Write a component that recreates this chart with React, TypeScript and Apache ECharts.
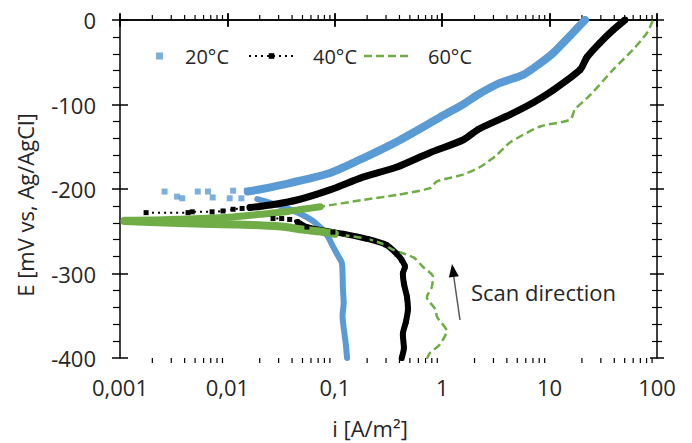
import React, { useEffect, useRef } from "react";
import * as echarts from "echarts";

// ---- data: [current density i (A/m2), potential E (mV vs Ag/AgCl)] ----
const blueCathodic: number[][] = [
  [0.13, -400], [0.127, -385], [0.122, -368], [0.118, -350], [0.121, -335], [0.119, -318],
  [0.118, -300], [0.116, -287], [0.106, -278], [0.096, -268], [0.085, -255], [0.066, -240],
  [0.047, -229], [0.031, -220], [0.019, -212],
];
const blueAnodic: number[][] = [
  [0.0155, -203], [0.021, -200], [0.038, -193], [0.09, -181], [0.18, -164], [0.264, -154],
  [0.405, -142], [0.77, -122], [0.954, -115], [1.56, -100], [2.11, -89], [3.45, -74.5],
  [5.65, -65], [8.0, -52], [10.8, -39], [16.5, -15], [21.4, 0],
];
const blueSparse: number[][] = [
  [0.0026, -203], [0.0034, -209], [0.0038, -211], [0.0053, -203], [0.0066, -203],
  [0.0073, -210], [0.0105, -211], [0.0113, -202], [0.0135, -211], [0.0152, -202],
];
const blackCathodic: number[][] = [
  [0.42, -400], [0.44, -388], [0.43, -372], [0.46, -357], [0.48, -342], [0.47, -328],
  [0.44, -312], [0.43, -300], [0.45, -292], [0.42, -284], [0.38, -277], [0.3, -266],
  [0.2, -259], [0.12, -253], [0.096, -251], [0.055, -245], [0.045, -239], [0.038, -236],
  [0.032, -235], [0.0266, -235],
];
const blackAnodic: number[][] = [
  [0.00175, -228], [0.0043, -228], [0.0047, -227], [0.0072, -227], [0.0091, -226],
  [0.0113, -224], [0.0137, -223], [0.0162, -222], [0.0189, -221], [0.0249, -219],
  [0.0445, -213], [0.09, -201], [0.183, -186], [0.379, -174], [0.769, -157], [1.56, -142],
  [2.2, -129], [4.28, -112], [7.0, -98], [10.8, -83], [19.2, -59], [22.3, -44], [29.4, -27],
  [38.9, -12], [50.3, 0],
];
const greenCathodic: number[][] = [
  [0.72, -401], [0.77, -394], [0.95, -384], [1.1, -368], [0.9, -352], [0.86, -342],
  [0.72, -328], [0.8, -316], [0.82, -304], [0.66, -292], [0.54, -281], [0.35, -272],
  [0.28, -265], [0.2, -259], [0.1, -253], [0.07, -250], [0.05, -248], [0.035, -245],
  [0.02, -243], [0.0113, -242], [0.003, -240], [0.0011, -238],
];
const greenAnodic: number[][] = [
  [0.0011, -237], [0.003, -236], [0.0113, -233], [0.02, -230], [0.035, -227], [0.05, -224],
  [0.073, -221], [0.183, -213], [0.379, -207], [0.77, -199], [0.895, -191], [1.56, -183],
  [2.25, -174], [3.2, -160], [4.28, -145], [8.14, -126], [15.5, -118], [17.2, -106],
  [23.8, -89], [38.9, -59], [59.8, -35], [80.8, -15], [91.8, 0],
];

const X_TICK_LABELS = ["0,001", "0,01", "0,1", "1", "10", "100"];
const X_DECADES = [0.001, 0.01, 0.1, 1, 10];
const X_MINOR_MULT = [2, 3, 4, 5, 6, 7, 8, 9];
const SERIES_NAMES = ["20°C", "40°C", "60°C"];

const X_MIN = 0.001;
const X_MAX = 100;
const Y_MIN = -400;
const Y_MAX = 0;

const FONT = "'Open Sans', 'Noto Sans', sans-serif";
const TXT = "#262626";
const BLUE = "#5B9BD5";
const BLACK = "#000000";
const GREEN = "#70AD47";
const SMOOTH = 0.25;

export default function App() {
  const ref = useRef<HTMLDivElement>(null);

  useEffect(() => {
    if (!ref.current) return;
    const chart = echarts.init(ref.current, undefined, { renderer: "svg" });

    const minorTicks: number[][] = [];
    X_DECADES.forEach((d) => X_MINOR_MULT.forEach((m) => minorTicks.push([d * m, Y_MIN])));

    const logAxisBase = {
      type: "log" as const,
      logBase: 10,
      min: X_MIN,
      max: X_MAX,
      splitLine: { show: false },
    };
    const valAxisBase = {
      type: "value" as const,
      min: Y_MIN,
      max: Y_MAX,
      interval: 100,
      splitLine: { show: false },
    };
    const lineAx = { show: true, lineStyle: { color: BLACK, width: 1.5 } };
    const legendText = { fontSize: 20, color: TXT, fontFamily: FONT, lineHeight: 24 };

    const option: any = {
      animation: false,
      backgroundColor: "#ffffff",
      textStyle: { fontFamily: FONT },
      grid: { left: 120, right: 35, top: 20, bottom: 85, containLabel: false },
      xAxis: [
        {
          ...logAxisBase,
          position: "bottom",
          axisLine: lineAx,
          axisTick: { show: true, length: 6, lineStyle: { color: BLACK, width: 1.5 } },
          axisLabel: {
            show: true,
            margin: 18,
            fontSize: 22,
            color: TXT,
            fontFamily: FONT,
            formatter: (v: number) => X_TICK_LABELS[Math.round(Math.log10(v)) + 3] ?? "",
          },
        },
        {
          ...logAxisBase,
          position: "bottom",
          axisLine: { show: false },
          axisTick: { show: true, inside: true, length: 6, lineStyle: { color: BLACK, width: 1.5 } },
          axisLabel: { show: false },
        },
        {
          ...logAxisBase,
          position: "top",
          axisLine: lineAx,
          axisTick: { show: true, length: 7, lineStyle: { color: BLACK, width: 1.5 } },
          axisLabel: { show: false },
        },
        {
          ...logAxisBase,
          position: "top",
          axisLine: { show: false },
          axisTick: { show: true, inside: true, length: 7, lineStyle: { color: BLACK, width: 1.5 } },
          axisLabel: { show: false },
        },
      ],
      yAxis: [
        {
          ...valAxisBase,
          position: "left",
          axisLine: lineAx,
          axisTick: { show: true, length: 8, lineStyle: { color: BLACK, width: 1.5 } },
          minorTick: { show: true, splitNumber: 5, length: 7, lineStyle: { color: BLACK, width: 1.2 } },
          axisLabel: { show: true, margin: 24, fontSize: 22, color: TXT, fontFamily: FONT },
        },
        {
          ...valAxisBase,
          position: "left",
          axisLine: { show: false },
          axisTick: { show: true, inside: true, length: 8, lineStyle: { color: BLACK, width: 1.5 } },
          axisLabel: { show: false },
        },
        {
          ...valAxisBase,
          position: "right",
          axisLine: lineAx,
          axisTick: { show: true, length: 7, lineStyle: { color: BLACK, width: 1.5 } },
          minorTick: { show: true, splitNumber: 5, length: 5, lineStyle: { color: BLACK, width: 1.2 } },
          axisLabel: { show: false },
        },
        {
          ...valAxisBase,
          position: "right",
          axisLine: { show: false },
          axisTick: { show: true, inside: true, length: 7, lineStyle: { color: BLACK, width: 1.5 } },
          minorTick: { show: true, splitNumber: 5, length: 5, lineStyle: { color: BLACK, width: 1.2 } },
          axisLabel: { show: false },
        },
      ],
      legend: [
        {
          data: [{ name: SERIES_NAMES[0], icon: "path://M0,0H10V10H0Z" }],
          left: 156,
          top: 44,
          padding: 0,
          itemWidth: 7,
          itemHeight: 7,
          selectedMode: false,
          textStyle: { ...legendText, padding: [0, 0, 0, 17] },
        },
        {
          data: [SERIES_NAMES[1]],
          left: 248,
          top: 44,
          padding: 0,
          itemWidth: 45,
          itemHeight: 7,
          selectedMode: false,
          textStyle: { ...legendText, padding: [0, 0, 0, 14] },
        },
        {
          data: [
            {
              name: SERIES_NAMES[2],
              icon: "path://M0,0h8v2.5h-8z M12,0h8v2.5h-8z M24,0h8v2.5h-8z M36,0h8v2.5h-8z",
            },
          ],
          left: 364,
          top: 44,
          padding: 0,
          itemWidth: 44,
          itemHeight: 7,
          selectedMode: false,
          textStyle: { ...legendText, padding: [0, 0, 0, 15] },
        },
      ],
      series: [
        {
          type: "custom",
          name: "minorTicks",
          silent: true,
          clip: false,
          xAxisIndex: 0,
          yAxisIndex: 0,
          data: minorTicks,
          renderItem: (_p: any, api: any) => {
            const v = api.value(0);
            const b = api.coord([v, Y_MIN]);
            const t = api.coord([v, Y_MAX]);
            return {
              type: "group",
              children: [
                { type: "line", shape: { x1: b[0], y1: b[1], x2: b[0], y2: b[1] + 5 }, style: { stroke: BLACK, lineWidth: 1.2 } },
                { type: "line", shape: { x1: t[0], y1: t[1], x2: t[0], y2: t[1] - 5 }, style: { stroke: BLACK, lineWidth: 1.2 } },
              ],
            };
          },
        },
        {
          type: "line",
          name: "b20c",
          data: blueCathodic,
          showSymbol: false,
          smooth: SMOOTH,
          lineStyle: { color: BLUE, width: 6, cap: "round", join: "round" },
          silent: true,
        },
        {
          type: "line",
          name: "b20a",
          data: blueAnodic,
          showSymbol: false,
          smooth: SMOOTH,
          lineStyle: { color: BLUE, width: 8, cap: "round", join: "round" },
          silent: true,
        },
        {
          type: "scatter",
          name: SERIES_NAMES[0],
          data: blueSparse,
          symbol: "rect",
          symbolSize: 6,
          itemStyle: { color: BLUE },
        },
        {
          type: "line",
          name: "k40c",
          data: blackCathodic.slice(0, -3),
          showSymbol: false,
          smooth: SMOOTH,
          lineStyle: { color: BLACK, width: 6, cap: "round", join: "round" },
          silent: true,
        },
        {
          type: "line",
          name: "k40a",
          data: blackAnodic.slice(7),
          showSymbol: false,
          smooth: SMOOTH,
          lineStyle: { color: BLACK, width: 7, cap: "round", join: "round" },
          silent: true,
        },
        {
          type: "line",
          name: SERIES_NAMES[1],
          data: [...blackCathodic, "-", ...blackAnodic],
          symbol: "rect",
          symbolSize: 5,
          showSymbol: true,
          smooth: SMOOTH,
          connectNulls: false,
          itemStyle: { color: BLACK },
          lineStyle: { color: BLACK, width: 2, type: [2, 4] },
        },
        {
          type: "line",
          name: "g60c",
          data: greenCathodic.slice(14),
          showSymbol: false,
          smooth: SMOOTH,
          lineStyle: { color: GREEN, width: 8, cap: "round", join: "round" },
          silent: true,
        },
        {
          type: "line",
          name: "g60a",
          data: greenAnodic.slice(0, 7),
          showSymbol: false,
          smooth: SMOOTH,
          lineStyle: { color: GREEN, width: 7, cap: "round", join: "round" },
          silent: true,
        },
        {
          type: "line",
          name: SERIES_NAMES[2],
          data: [...greenCathodic, ...greenAnodic],
          showSymbol: false,
          symbol: "none",
          smooth: SMOOTH,
          itemStyle: { color: GREEN },
          lineStyle: { color: GREEN, width: 2.5, type: [8, 4] },
        },
      ],
      graphic: [
        {
          type: "text",
          x: 25,
          y: 205,
          rotation: Math.PI / 2,
          style: {
            text: "E [mV vs, Ag/AgCl]",
            fontSize: 22,
            fontFamily: FONT,
            fill: TXT,
            align: "center",
            verticalAlign: "middle",
            textAlign: "center",
            textVerticalAlign: "middle",
          },
        },
        {
          type: "text",
          x: 370,
          y: 428,
          style: {
            text: "i [A/m²]",
            fontSize: 22,
            fontFamily: FONT,
            fill: TXT,
            align: "center",
            verticalAlign: "middle",
            textAlign: "center",
            textVerticalAlign: "middle",
          },
        },
        {
          type: "text",
          x: 471,
          y: 292,
          style: {
            text: "Scan direction",
            fontSize: 22,
            fontFamily: FONT,
            fill: TXT,
            align: "left",
            verticalAlign: "middle",
            textAlign: "left",
            textVerticalAlign: "middle",
          },
        },
        {
          type: "line",
          shape: { x1: 460, y1: 320, x2: 453.8, y2: 277 },
          style: { stroke: "#595959", lineWidth: 1.5 },
        },
        {
          type: "polygon",
          shape: { points: [[452, 264], [458.8, 276.2], [448.9, 277.6]] },
          style: { fill: "#000000" },
        },
      ],
    };

    chart.setOption(option);
    return () => chart.dispose();
  }, []);

  return (
    <div
      ref={ref}
      style={{ position: "fixed", left: 0, top: 0, width: 692, height: 443, background: "#fff" }}
    />
  );
}
